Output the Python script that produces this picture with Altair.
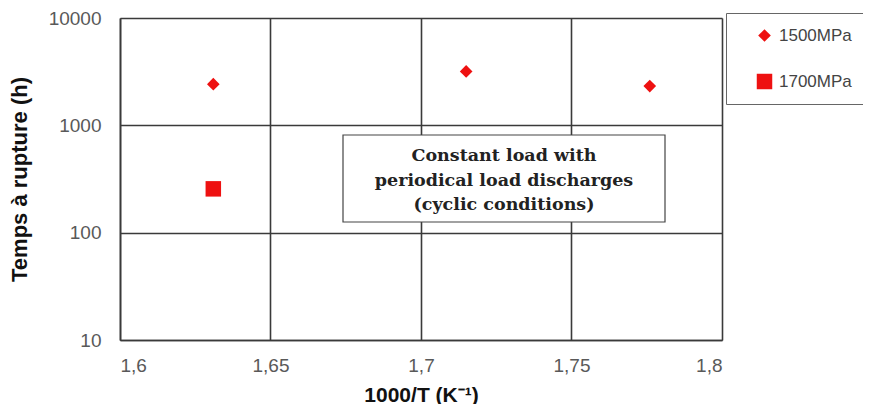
import altair as alt
import pandas as pd

# Data
series = ["1500MPa", "1500MPa", "1500MPa", "1700MPa"]
inv_temp = [1.631, 1.715, 1.776, 1.631]
rupture_h = [2420, 3180, 2320, 256]

x_ticks = [1.6, 1.65, 1.7, 1.75, 1.8]
y_ticks = [10, 100, 1000, 10000]

note_lines = ["Constant load with", "periodical load discharges", "(cyclic conditions)"]

df = pd.DataFrame({"series": series, "x": inv_temp, "y": rupture_h})
notes = pd.DataFrame({"line": note_lines, "i": list(range(len(note_lines)))})

W, H = 602, 322
GRID = "#3a3a3a"
LABEL = "#595959"

x_enc = alt.X(
    "x:Q",
    scale=alt.Scale(domain=[1.6, 1.8], nice=False, zero=False),
    axis=alt.Axis(
        values=x_ticks,
        labelExpr="replace(format(datum.value, '.2~f'), '.', ',')",
        title="1000/T (K⁻¹)",
        grid=True,
        gridColor=GRID,
        gridWidth=1.6,
        ticks=False,
        domainColor=GRID,
        domainWidth=1.6,
        labelFont="Liberation Sans",
        labelFontSize=19,
        labelColor=LABEL,
        labelPadding=16,
        titleFont="Liberation Sans",
        titleFontSize=21,
        titleFontWeight="bold",
        titleColor="#111111",
        titlePadding=9,
    ),
)
y_enc = alt.Y(
    "y:Q",
    scale=alt.Scale(type="log", domain=[10, 10000], nice=False),
    axis=alt.Axis(
        values=y_ticks,
        format="d",
        title="Temps à rupture (h)",
        grid=True,
        gridColor=GRID,
        gridWidth=1.6,
        ticks=False,
        domainColor=GRID,
        domainWidth=1.6,
        labelFont="Liberation Sans",
        labelFontSize=19,
        labelColor=LABEL,
        labelPadding=19,
        titleFont="Liberation Sans",
        titleFontSize=22,
        titleFontWeight="bold",
        titleColor="#111111",
        titlePadding=17,
    ),
)

legend = alt.Legend(
    title=None,
    orient="none",
    legendX=606,
    legendY=-5,
    padding=14,
    rowPadding=28,
    symbolOffset=16,
    labelOffset=6,
    strokeColor="#666666",
    fillColor="white",
    labelFont="Liberation Sans",
    labelFontSize=17,
    labelColor="#444444",
)

points = alt.Chart(df).mark_point(filled=True, opacity=1).encode(
    x=x_enc,
    y=y_enc,
    shape=alt.Shape("series:N", scale=alt.Scale(domain=["1500MPa", "1700MPa"], range=["diamond", "square"]), legend=legend),
    color=alt.Color("series:N", scale=alt.Scale(domain=["1500MPa", "1700MPa"], range=["#ee1111", "#ee1111"]), legend=legend),
    size=alt.Size("series:N", scale=alt.Scale(domain=["1500MPa", "1700MPa"], range=[160, 240]), legend=legend),
)

box = alt.Chart(pd.DataFrame({"a": [0]})).mark_rect(fill="white", stroke="#444444", strokeWidth=1.2).encode(
    x=alt.value(223), x2=alt.value(545), y=alt.value(117), y2=alt.value(204)
)

text = alt.Chart(notes).mark_text(
    font="DejaVu Serif", fontSize=17.5, fontWeight="bold", color="#222222", align="center", baseline="middle"
).encode(
    x=alt.value(384),
    y=alt.Y("i:Q", scale=alt.Scale(domain=[0, 2], range=[138, 187]), axis=None),
    text="line:N",
)

chart = alt.layer(points, box, text).resolve_scale(y="independent").properties(
    width=W,
    height=H,
    autosize=alt.AutoSizeParams(type="none"),
    padding={"left": 112, "top": 10, "right": 141, "bottom": 64},
).configure_view(stroke=GRID, strokeWidth=1.6).configure(background="white")

chart.save("out.html", embed_options={"renderer": "svg", "actions": False})
